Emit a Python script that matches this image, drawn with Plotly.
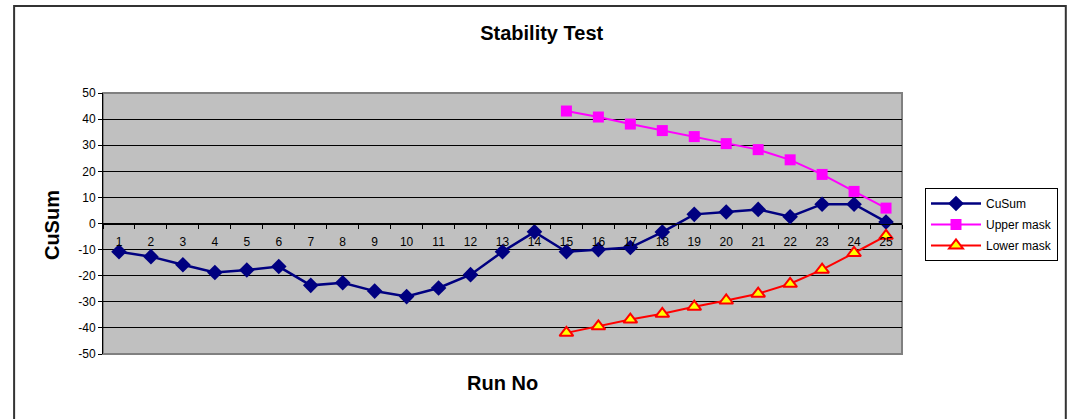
import plotly.graph_objects as go

runs = [str(i) for i in range(1, 26)]
cusum = [-10.8, -12.7, -15.8, -18.8, -17.8, -16.5, -23.7, -22.7, -25.9, -28.0,
         -24.7, -19.6, -10.8, -3.2, -10.8, -10.0, -9.2, -3.3, 3.5, 4.4,
         5.4, 2.6, 7.4, 7.4, 0.6]
mask_runs = runs[14:]
upper_mask = [43.1, 40.8, 38.1, 35.6, 33.3, 30.6, 28.3, 24.4, 18.8, 12.3, 5.9]
lower_mask = [-41.9, -39.4, -36.8, -34.6, -31.9, -29.5, -26.9, -23.1, -17.7, -11.3, -4.7]
y_ticks = [50, 40, 30, 20, 10, 0, -10, -20, -30, -40, -50]

FONT = "Arial, Liberation Sans, sans-serif"
W, H = 1069, 419
L, R, T, B = 103, 166, 93, 65
pw, ph = W - L - R, H - T - B

def px(xpix):
    return (xpix - L) / pw

def py(ypix):
    return (H - B - ypix) / ph

fig = go.Figure()
fig.add_trace(go.Scatter(
    x=runs, y=cusum, name="CuSum", mode="lines+markers", legendgroup="a",
    line=dict(color="#000080", width=2.5),
    marker=dict(symbol="diamond", size=12, color="#000080")))
fig.add_trace(go.Scatter(
    x=mask_runs, y=upper_mask, name="Upper mask", mode="lines+markers", legendgroup="b",
    line=dict(color="#FF00FF", width=2),
    marker=dict(symbol="square", size=11, color="#FF00FF")))
fig.add_trace(go.Scatter(
    x=mask_runs, y=lower_mask, name="Lower mask", mode="lines+markers", legendgroup="c",
    line=dict(color="#FF0000", width=2),
    marker=dict(symbol="triangle-up", size=12, color="#FFFF00",
                line=dict(color="#FF0000", width=2))))

fig.update_layout(
    width=W, height=H,
    margin=dict(l=L, r=R, t=T, b=B),
    paper_bgcolor="white", plot_bgcolor="#C0C0C0",
    font=dict(family=FONT, size=12, color="black"),
    title=dict(text="<b>Stability Test</b>", font=dict(size=20, family=FONT, color="black"),
               x=541.7 / W, xanchor="center", xref="container",
               y=1 - 33 / H, yanchor="middle", yref="container"),
    showlegend=True,
    legend=dict(x=px(925), y=py(188), xanchor="left", yanchor="top",
                bgcolor="white", bordercolor="black", borderwidth=1,
                font=dict(size=12, family=FONT, color="black"),
                traceorder="grouped", tracegroupgap=2, itemwidth=50),
    xaxis=dict(type="category", categoryorder="array", categoryarray=runs,
               range=[-0.5, 24.5], anchor="free", position=0.5,
               showline=True, linecolor="black", linewidth=1,
               ticks="outside", ticklen=4, tickcolor="black", tickson="boundaries",
               ticklabelstandoff=7,
               showgrid=False, zeroline=False,
               tickfont=dict(size=12, family=FONT, color="black")),
    yaxis=dict(range=[-50, 50], tickvals=y_ticks, ticktext=[str(v) for v in y_ticks],
               showline=True, linecolor="black", linewidth=1,
               ticks="outside", ticklen=4, tickcolor="black",
               showgrid=True, gridcolor="black", gridwidth=1, zeroline=False,
               tickfont=dict(size=12, family=FONT, color="black")),
)

# plot area border (gray) and outer chart border
fig.add_shape(type="rect", xref="paper", yref="paper", x0=0, x1=1, y0=0, y1=1,
              line=dict(color="#808080", width=2), layer="below")
fig.add_shape(type="rect", xref="paper", yref="paper",
              x0=px(14), x1=px(1067), y0=py(440), y1=py(6),
              line=dict(color="#333333", width=2))

fig.add_annotation(text="<b>Run No</b>", xref="paper", yref="paper",
                   x=px(503), y=py(383), xanchor="center", yanchor="middle",
                   showarrow=False, font=dict(size=20, family=FONT, color="black"))
fig.add_annotation(text="<b>CuSum</b>", xref="paper", yref="paper",
                   x=px(52), y=py(225), xanchor="center", yanchor="middle",
                   textangle=-90, showarrow=False,
                   font=dict(size=20, family=FONT, color="black"))

fig.write_html("out.html", config={"displayModeBar": False},
               post_script="document.body.style.margin='0';document.body.style.overflow='hidden';")
